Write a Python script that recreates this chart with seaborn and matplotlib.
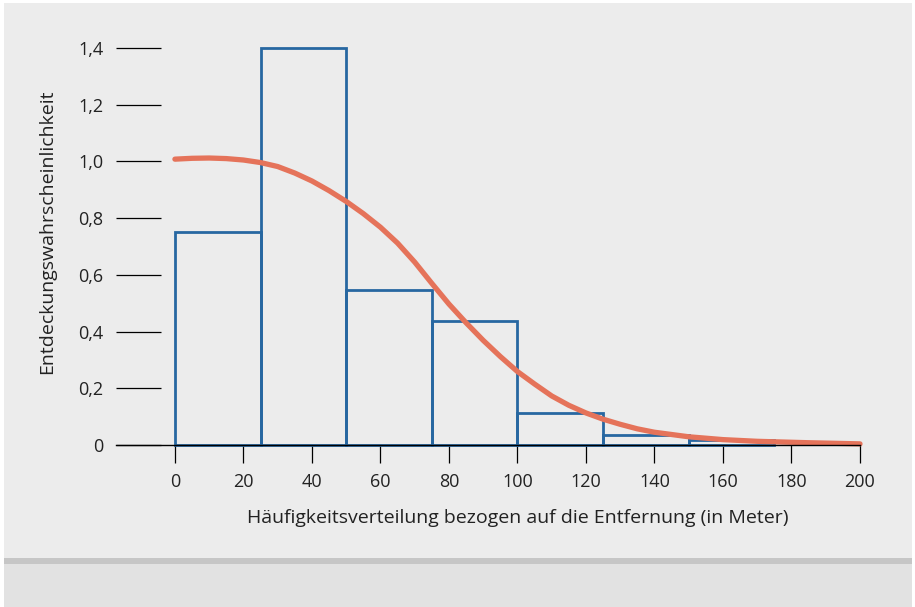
import numpy as np
import pandas as pd
import seaborn as sns
import matplotlib.pyplot as plt
from matplotlib.patches import Rectangle

# Histogramm (Klassen je 25 m)
bin_edges = [0, 25, 50, 75, 100, 125, 150, 175]
bar_heights = [0.75, 1.40, 0.545, 0.437, 0.113, 0.035, 0.018]

# Entdeckungsfunktion
curve_x = [0, 5, 10, 15, 20, 25, 30, 35, 40, 45, 50, 55, 60, 65, 70, 75, 80, 85,
           90, 95, 100, 105, 110, 115, 120, 125, 130, 135, 140, 150, 160, 170, 185, 200]
curve_y = [1.008, 1.011, 1.012, 1.010, 1.005, 0.996, 0.982, 0.959, 0.931, 0.897, 0.859,
           0.816, 0.768, 0.712, 0.645, 0.570, 0.497, 0.431, 0.369, 0.312, 0.259, 0.215,
           0.173, 0.140, 0.113, 0.091, 0.073, 0.057, 0.045, 0.029, 0.019, 0.013, 0.008, 0.004]

y_ticks = [0, 0.2, 0.4, 0.6, 0.8, 1.0, 1.2, 1.4]
y_ticklabels = ["0", "0,2", "0,4", "0,6", "0,8", "1,0", "1,2", "1,4"]
x_ticks = [0, 20, 40, 60, 80, 100, 120, 140, 160, 180, 200]

sns.set_style("white")
plt.rcParams['font.family'] = ['Open Sans', 'DejaVu Sans']

blue = "#2767a1"
orange = "#e5735a"
txt = "#222222"

fig = plt.figure(figsize=(9.15, 6.07), dpi=100, facecolor="white")
W, H = 915, 607
# Hintergrundflächen
fig.patches.append(Rectangle((4 / W, 1 - 558 / H), 908 / W, 555 / H, transform=fig.transFigure,
                             facecolor="#ececec", edgecolor="none", zorder=-10))
fig.patches.append(Rectangle((4 / W, 1 - 564 / H), 908 / W, 6 / H, transform=fig.transFigure,
                             facecolor="#c6c6c6", edgecolor="none", zorder=-10))
fig.patches.append(Rectangle((4 / W, 0), 908 / W, 43 / H, transform=fig.transFigure,
                             facecolor="#e2e2e2", edgecolor="none", zorder=-10))

ax = fig.add_axes([116 / W, 1 - 445 / H, 744 / W, 397 / H])
ax.set_facecolor("none")

centers = [(a + b) / 2 for a, b in zip(bin_edges[:-1], bin_edges[1:])]
df = pd.DataFrame({"x": centers, "h": bar_heights})
sns.histplot(data=df, x="x", weights="h", bins=bin_edges, fill=False,
             color=blue, linewidth=2.0, ax=ax)
for p in ax.patches:
    p.set_clip_on(False)
    p.set_edgecolor(blue)

df_c = pd.DataFrame({"x": curve_x, "y": curve_y})
sns.lineplot(data=df_c, x="x", y="y", color=orange, linewidth=3.8, ax=ax,
             solid_capstyle="round", solid_joinstyle="round")
for l in ax.lines:
    l.set_clip_on(False)

ax.set_xlim(-17.2, 200)
ax.set_ylim(0, 1.4)
ax.set_xticks(x_ticks)
ax.set_xticklabels([str(v) for v in x_ticks])
ax.set_yticks(y_ticks)
ax.set_yticklabels(y_ticklabels)

for s in ["top", "right", "left"]:
    ax.spines[s].set_visible(False)
ax.spines["bottom"].set_color("black")
ax.spines["bottom"].set_linewidth(1.0)

ax.tick_params(axis="y", direction="in", length=32.5, width=0.9, color="black",
               pad=9, labelsize=13, labelcolor=txt, left=True)
ax.tick_params(axis="x", direction="out", length=13, width=0.9, color="black",
               pad=7, labelsize=13, labelcolor=txt, bottom=True)

# Achsentitel
ax.set_xlabel("Häufigkeitsverteilung bezogen auf die Entfernung (in Meter)",
              fontsize=14, color=txt)
ax.xaxis.set_label_coords((518 - 116) / 744, -(509 - 445) / 397)
ax.set_ylabel("Entdeckungswahrscheinlichkeit", fontsize=14, color=txt)
ax.yaxis.set_label_coords(-(116 - 56) / 744, 0.537)

fig.savefig("out.png", dpi=100, facecolor="white")
